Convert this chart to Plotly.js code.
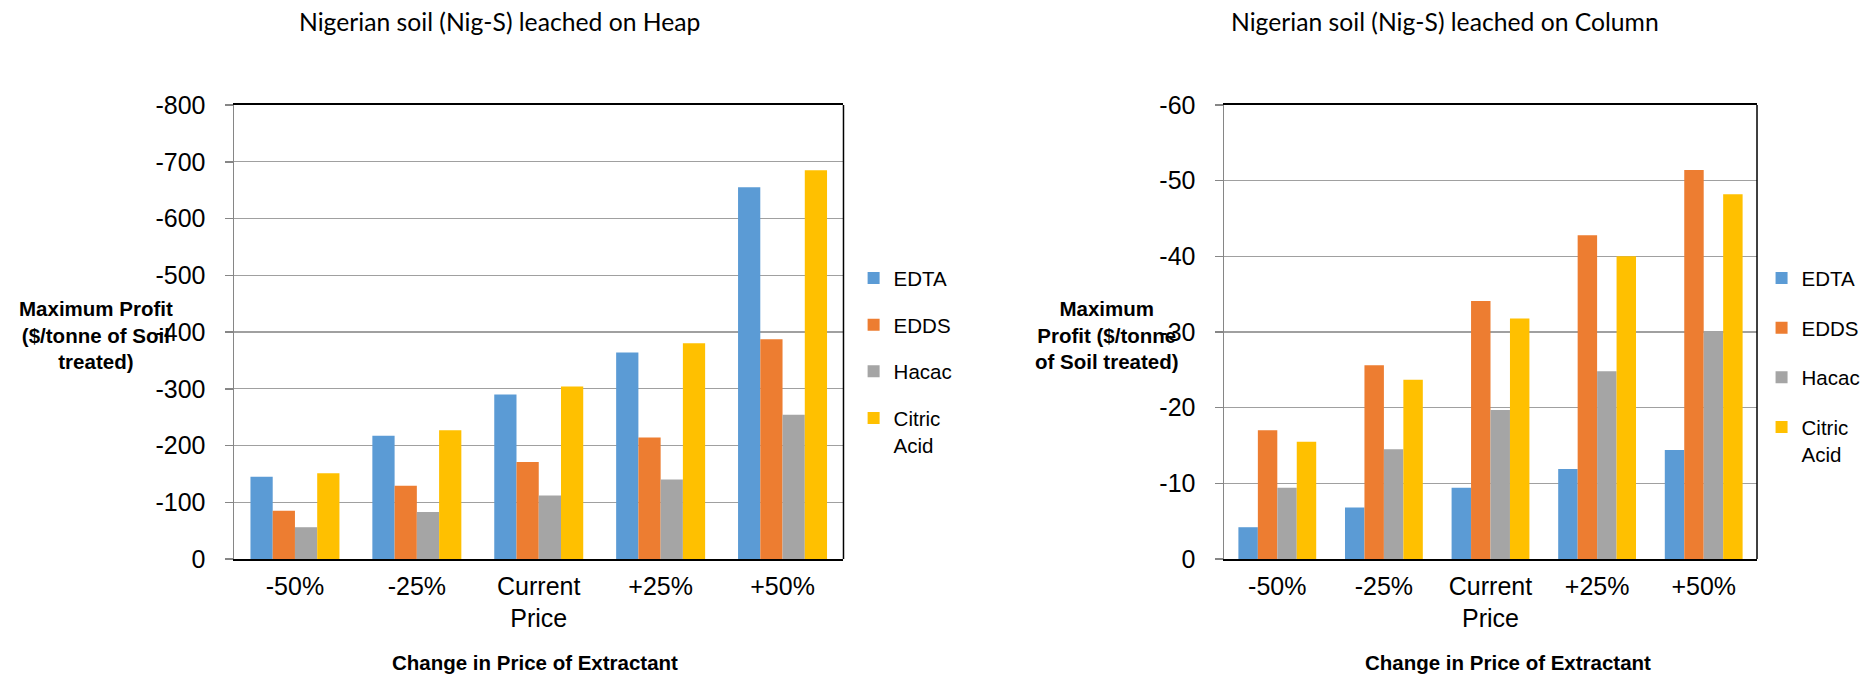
<!DOCTYPE html>
<html>
<head>
<meta charset="utf-8">
<script src="https://cdn.plot.ly/plotly-3.0.1.min.js"></script>
<style>html,body{margin:0;padding:0;background:#fff;}#chart{width:1874px;height:676px;}</style>
</head>
<body>
<div id="chart"></div>
<script>
// ---- data ----
const categories = ['-50%', '-25%', 'Current<br>Price', '+25%', '+50%'];
const seriesNames = ['EDTA', 'EDDS', 'Hacac', 'Citric<br>Acid'];
const seriesColors = ['#5B9BD5', '#ED7D31', '#A5A5A5', '#FFC000'];

const heapEDTA   = [-145, -217, -290, -364, -655];
const heapEDDS   = [-85, -129, -171, -214, -387];
const heapHacac  = [-56, -83, -112, -140, -254];
const heapCitric = [-151, -227, -304, -380, -685];

const colEDTA   = [-4.2, -6.8, -9.4, -11.9, -14.4];
const colEDDS   = [-17.0, -25.6, -34.1, -42.8, -51.4];
const colHacac  = [-9.4, -14.5, -19.7, -24.8, -30.1];
const colCitric = [-15.5, -23.7, -31.8, -40.0, -48.2];

const heapTickVals = [0, -100, -200, -300, -400, -500, -600, -700, -800];
const heapTickText = ['0', '-100', '-200', '-300', '-400', '-500', '-600', '-700', '-800'];
const colTickVals = [0, -10, -20, -30, -40, -50, -60];
const colTickText = ['0', '-10', '-20', '-30', '-40', '-50', '-60'];

const heapTitle = 'Nigerian soil (Nig-S) leached on Heap';
const colTitle = 'Nigerian soil (Nig-S) leached on Column';
const heapYTitle = 'Maximum Profit<br>($/tonne of Soil<br>treated)';
const colYTitle = 'Maximum<br>Profit ($/tonne<br>of Soil treated)';
const xTitle = 'Change in Price of Extractant';

// ---- build ----
const heapSeries = [heapEDTA, heapEDDS, heapHacac, heapCitric];
const colSeries = [colEDTA, colEDDS, colHacac, colCitric];
const traces = [];
heapSeries.forEach((vals, i) => traces.push({
  type: 'bar', x: categories, y: vals, name: seriesNames[i],
  marker: {color: seriesColors[i]}, xaxis: 'x', yaxis: 'y',
  legend: 'legend', legendgroup: 'h' + i, hoverinfo: 'skip'
}));
colSeries.forEach((vals, i) => traces.push({
  type: 'bar', x: categories, y: vals, name: seriesNames[i],
  marker: {color: seriesColors[i]}, xaxis: 'x2', yaxis: 'y2',
  legend: 'legend2', legendgroup: 'c' + i, hoverinfo: 'skip'
}));

const ARIAL = 'Liberation Sans, Arial, sans-serif';
const CAL = 'Lato, Open Sans, sans-serif';

const xaxisBase = {
  type: 'category', showline: true, linecolor: '#000', linewidth: 2, mirror: true,
  ticks: '', showgrid: false, zeroline: false, ticklabelstandoff: 4,
  tickfont: {family: ARIAL, size: 25, color: '#000'}, fixedrange: true
};
const yaxisBase = {
  showgrid: true, gridcolor: '#A0A0A0', gridwidth: 1.3, zeroline: false,
  showline: true, linecolor: '#868686', linewidth: 1.5,
  ticks: 'outside', ticklen: 8, tickcolor: '#868686', tickwidth: 1.5,
  ticklabelstandoff: 14,
  tickfont: {family: ARIAL, size: 25, color: '#000'}, fixedrange: true
};

const yDom = [0.17308, 0.84467];
const layout = {
  width: 1874, height: 676,
  margin: {l: 0, r: 0, t: 0, b: 0},
  paper_bgcolor: '#fff', plot_bgcolor: '#fff',
  barmode: 'group', bargap: 0.27, bargroupgap: 0,
  showlegend: true,
  xaxis: Object.assign({}, xaxisBase, {domain: [0.12487, 0.4501], anchor: 'y'}),
  yaxis: Object.assign({}, yaxisBase, {domain: yDom, anchor: 'x', range: [0, -800],
    tickmode: 'array', tickvals: heapTickVals, ticktext: heapTickText}),
  xaxis2: Object.assign({}, xaxisBase, {domain: [0.65315, 0.93757], anchor: 'y2'}),
  yaxis2: Object.assign({}, yaxisBase, {domain: yDom, anchor: 'x2', range: [0, -60],
    tickmode: 'array', tickvals: colTickVals, ticktext: colTickText}),
  legend: {x: 0.4555, xanchor: 'left', y: 0.618, yanchor: 'top', valign: 'top',
    bgcolor: 'rgba(0,0,0,0)', borderwidth: 0, tracegroupgap: 17, traceorder: 'grouped',
    font: {family: ARIAL, size: 20.5, color: '#000'}},
  legend2: {x: 0.9400, xanchor: 'left', y: 0.618, yanchor: 'top', valign: 'top',
    bgcolor: 'rgba(0,0,0,0)', borderwidth: 0, tracegroupgap: 20, traceorder: 'grouped',
    font: {family: ARIAL, size: 20.5, color: '#000'}},
  shapes: [
    {type: 'line', xref: 'x domain', yref: 'y domain', x0: 1, x1: 1, y0: 0, y1: 1,
      line: {color: '#000', width: 1.5}, layer: 'above'},
    {type: 'line', xref: 'x2 domain', yref: 'y2 domain', x0: 1, x1: 1, y0: 0, y1: 1,
      line: {color: '#000', width: 1.5}, layer: 'above'}
  ],
  annotations: [
    {text: heapTitle, xref: 'paper', yref: 'paper', x: 0.2663, y: 0.9675,
      xanchor: 'center', yanchor: 'middle', showarrow: false,
      font: {family: CAL, size: 24.7, color: '#000'}},
    {text: colTitle, xref: 'paper', yref: 'paper', x: 0.7711, y: 0.9675,
      xanchor: 'center', yanchor: 'middle', showarrow: false,
      font: {family: CAL, size: 24.7, color: '#000'}},
    {text: '<b>' + heapYTitle + '</b>', xref: 'paper', yref: 'paper', x: 0.0512, y: 0.5044,
      xanchor: 'center', yanchor: 'middle', showarrow: false, align: 'center',
      font: {family: ARIAL, size: 20.5, color: '#000'}},
    {text: '<b>' + colYTitle + '</b>', xref: 'paper', yref: 'paper', x: 0.5907, y: 0.5044,
      xanchor: 'center', yanchor: 'middle', showarrow: false, align: 'center',
      font: {family: ARIAL, size: 20.5, color: '#000'}},
    {text: '<b>' + xTitle + '</b>', xref: 'paper', yref: 'paper', x: 0.2855, y: 0.0207,
      xanchor: 'center', yanchor: 'middle', showarrow: false,
      font: {family: ARIAL, size: 20.5, color: '#000'}},
    {text: '<b>' + xTitle + '</b>', xref: 'paper', yref: 'paper', x: 0.8045, y: 0.0207,
      xanchor: 'center', yanchor: 'middle', showarrow: false,
      font: {family: ARIAL, size: 20.5, color: '#000'}}
  ]
};

Plotly.newPlot('chart', traces, layout, {displayModeBar: false, staticPlot: true});
</script>
</body>
</html>
